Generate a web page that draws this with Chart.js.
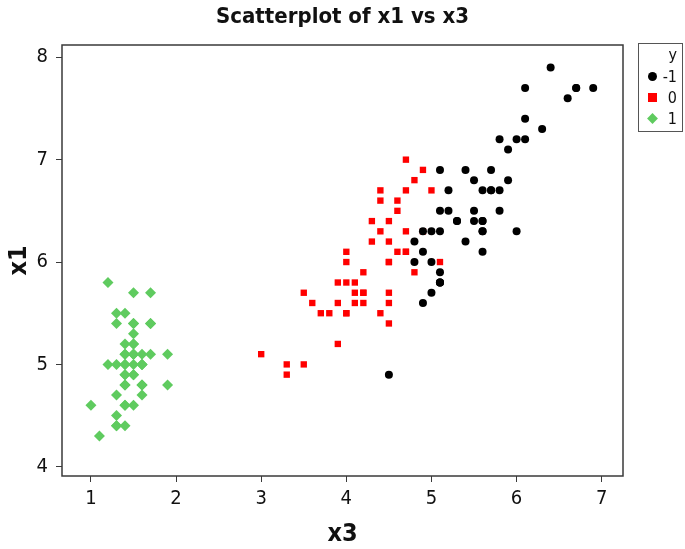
<!DOCTYPE html>
<html>
<head>
<meta charset="utf-8">
<script src="https://cdn.jsdelivr.net/npm/chart.js@4.4.1/dist/chart.umd.min.js"></script>
<style>
  body { margin: 0; background: #fff; }
  #wrap { position: relative; width: 685px; height: 549px; }
  #judulGrafik {
    position: absolute; left: 0; top: 3px; width: 685px; text-align: center;
    font-family: "DejaVu Sans Condensed", "DejaVu Sans", sans-serif; font-weight: bold;
    font-size: 22px; color: #111;
  }
  #legenda {
    position: absolute; left: 638px; top: 43px; width: 45px; height: 89px;
    border: 1px solid #555; box-sizing: border-box;
    font-family: "Liberation Sans Narrow", "DejaVu Sans Condensed", sans-serif; font-size: 16px; color: #111;
  }
  #legenda .judul { position: absolute; right: 5px; top: 1px; }
  #legenda .baris { position: absolute; left: 0; width: 100%; height: 20px; }
  #legenda .simbol { position: absolute; left: 9px; top: 6px; width: 9px; height: 9px; }
  #legenda .teks { position: absolute; right: 5px; top: 1px; }
</style>
</head>
<body>
<div id="wrap">
  <canvas id="grafik" width="685" height="549"></canvas>
  <div id="judulGrafik">Scatterplot of x1 vs x3</div>
  <div id="legenda"></div>
</div>
<script>
// data iris: x3 = panjang petal, x1 = panjang sepal
const kelompokY = ['-1', '0', '1'];
const warnaKelompok = ['#000000', '#ff0000', '#5fcb5f'];
const bentukKelompok = ['circle', 'rect', 'rectRot'];

// y = 1 (hijau)
const x3Satu = [1.4,1.4,1.3,1.5,1.4,1.7,1.4,1.5,1.4,1.5,1.5,1.6,1.4,1.1,1.2,1.5,1.3,1.4,1.7,1.5,1.7,1.5,1.0,1.7,1.9,1.6,1.6,1.5,1.4,1.6,1.6,1.5,1.5,1.4,1.5,1.2,1.3,1.4,1.3,1.5,1.3,1.3,1.3,1.6,1.9,1.4,1.6,1.4,1.5,1.4];
const x1Satu = [5.1,4.9,4.7,4.6,5.0,5.4,4.6,5.0,4.4,4.9,5.4,4.8,4.8,4.3,5.8,5.7,5.4,5.1,5.7,5.1,5.4,5.1,4.6,5.1,4.8,5.0,5.0,5.2,5.2,4.7,4.8,5.4,5.2,5.5,4.9,5.0,5.5,4.9,4.4,5.1,5.0,4.5,4.4,5.0,5.1,4.8,5.1,4.6,5.3,5.0];

// y = 0 (merah)
const x3Nol = [4.7,4.5,4.9,4.0,4.6,4.5,4.7,3.3,4.6,3.9,3.5,4.2,4.0,4.7,3.6,4.4,4.5,4.1,4.5,3.9,4.8,4.0,4.9,4.7,4.3,4.4,4.8,5.0,4.5,3.5,3.8,3.7,3.9,5.1,4.5,4.5,4.7,4.4,4.1,4.0,4.4,4.6,4.0,3.3,4.2,4.2,4.2,4.3,3.0,4.1];
const x1Nol = [7.0,6.4,6.9,5.5,6.5,5.7,6.3,4.9,6.6,5.2,5.0,5.9,6.0,6.1,5.6,6.7,5.6,5.8,6.2,5.6,5.9,6.1,6.3,6.1,6.4,6.6,6.8,6.7,6.0,5.7,5.5,5.5,5.8,6.0,5.4,6.0,6.7,6.3,5.6,5.5,5.5,6.1,5.8,5.0,5.6,5.7,5.7,6.2,5.1,5.7];

// y = -1 (hitam)
const x3MinSatu = [6.0,5.1,5.9,5.6,5.8,6.6,4.5,6.3,5.8,6.1,5.1,5.3,5.5,5.0,5.1,5.3,5.5,6.7,6.9,5.0,5.7,4.9,6.7,4.9,5.7,6.0,4.8,4.9,5.6,5.8,6.1,6.4,5.6,5.1,5.6,6.1,5.6,5.5,4.8,5.4,5.6,5.1,5.1,5.9,5.7,5.2,5.0,5.2,5.4,5.1];
const x1MinSatu = [6.3,5.8,7.1,6.3,6.5,7.6,4.9,7.3,6.7,7.2,6.5,6.4,6.8,5.7,5.8,6.4,6.5,7.7,7.7,6.0,6.9,5.6,7.7,6.3,6.7,7.2,6.2,6.1,6.4,7.2,7.4,7.9,6.4,6.3,6.1,7.7,6.3,6.4,6.0,6.9,6.7,6.9,5.8,6.8,6.7,6.7,6.3,6.5,6.2,5.9];

const tickX = [1, 2, 3, 4, 5, 6, 7];
const tickY = [4, 5, 6, 7, 8];

function gabung(xs, ys) {
    return xs.map(function(x, i) { return { x: x, y: ys[i] }; });
}

const semuaTitik = [gabung(x3MinSatu, x1MinSatu), gabung(x3Nol, x1Nol), gabung(x3Satu, x1Satu)];
const ukuran = [4, 4.5, 5.5];

const dataset = kelompokY.map(function(k, i) {
    return {
        label: k,
        data: semuaTitik[i],
        pointStyle: bentukKelompok[i],
        backgroundColor: warnaKelompok[i],
        borderColor: warnaKelompok[i],
        borderWidth: 0,
        pointRadius: ukuran[i],
        pointHoverRadius: ukuran[i]
    };
});

const hurufTick = { family: '"Liberation Sans Narrow", "DejaVu Sans Condensed", sans-serif', size: 20 };
const hurufJudul = { family: '"DejaVu Sans Condensed", "DejaVu Sans", sans-serif', size: 25, weight: 'bold' };

// bingkai kotak di sekeliling area plot
const bingkai = {
    id: 'bingkai',
    afterDraw: function(chart) {
        const a = chart.chartArea;
        const c = chart.ctx;
        c.save();
        c.strokeStyle = '#3a3a3a';
        c.lineWidth = 1.5;
        c.strokeRect(a.left, a.top, a.right - a.left, a.bottom - a.top);
        c.restore();
    }
};

new Chart(document.getElementById('grafik').getContext('2d'), {
    type: 'scatter',
    data: { datasets: dataset },
    options: {
        responsive: false,
        animation: false,
        layout: { padding: { top: 45, right: 62, left: 0, bottom: 0 } },
        plugins: {
            legend: { display: false },
            tooltip: { enabled: false },
            title: { display: false }
        },
        scales: {
            x: {
                type: 'linear',
                min: 0.66,
                max: 7.25,
                afterBuildTicks: function(s) { s.ticks = tickX.map(function(v) { return { value: v }; }); },
                afterFit: function(s) { s.height = 73; },
                grid: { drawOnChartArea: false, drawTicks: true, tickLength: 6, color: '#3a3a3a' },
                border: { display: false },
                ticks: { color: '#111', font: hurufTick, padding: 5 },
                title: { display: true, text: 'x3', color: '#111', font: hurufJudul, padding: { top: 4, bottom: 0 } }
            },
            y: {
                type: 'linear',
                min: 3.91,
                max: 8.12,
                afterBuildTicks: function(s) { s.ticks = tickY.map(function(v) { return { value: v }; }); },
                afterFit: function(s) { s.width = 62; },
                grid: { drawOnChartArea: false, drawTicks: true, tickLength: 6, color: '#3a3a3a' },
                border: { display: false },
                ticks: { color: '#111', font: hurufTick, padding: 8 },
                title: { display: true, text: 'x1', color: '#111', font: hurufJudul, padding: { bottom: 4 } }
            }
        }
    },
    plugins: [bingkai]
});

// legenda buatan sendiri
const legenda = document.getElementById('legenda');
legenda.innerHTML = '<div class="judul">y</div>';
kelompokY.forEach(function(k, i) {
    const baris = document.createElement('div');
    baris.className = 'baris';
    baris.style.top = (22 + i * 21) + 'px';
    let gaya = 'background:' + warnaKelompok[i] + ';';
    if (bentukKelompok[i] === 'circle') gaya += 'border-radius:50%;';
    if (bentukKelompok[i] === 'rectRot') gaya += 'transform:rotate(45deg) scale(0.85);';
    baris.innerHTML = '<div class="simbol" style="' + gaya + '"></div><div class="teks">' + k + '</div>';
    legenda.appendChild(baris);
});
</script>
</body>
</html>
